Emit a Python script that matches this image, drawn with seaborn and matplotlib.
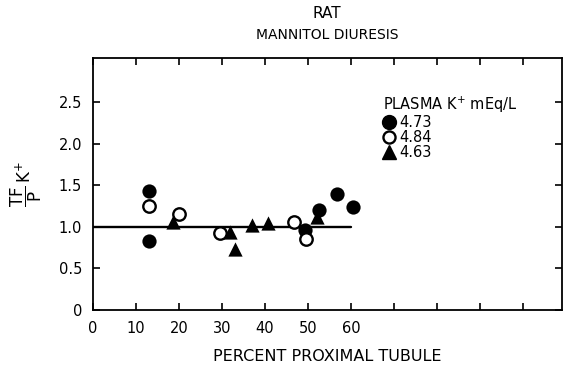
import numpy as np
import pandas as pd
import matplotlib
matplotlib.use("Agg")
import matplotlib.pyplot as plt
from matplotlib.lines import Line2D
import seaborn as sns

# Percent of proximal tubule length and TF/P potassium ratio, per plasma K+ group
x_473 = [12.9, 12.9, 49.3, 52.6, 56.8, 60.5]
y_473 = [1.43, 0.83, 0.96, 1.20, 1.39, 1.24]
x_484 = [12.9, 20.1, 29.5, 46.6, 49.5]
y_484 = [1.25, 1.15, 0.92, 1.06, 0.85]
x_463 = [18.7, 31.9, 33.0, 36.9, 40.6, 52.0]
y_463 = [1.06, 0.94, 0.73, 1.02, 1.05, 1.12]
group_labels = ["4.73", "4.84", "4.63"]

# Reference line at TF/P = 1
ref_x = [0, 60]
ref_y = [1.0, 1.0]

x_ticks = [0, 10, 20, 30, 40, 50, 60, 70, 80, 90, 100]
x_ticklabels = ["0", "10", "20", "30", "40", "50", "60", "", "", "", ""]
y_ticks = [0, 0.5, 1.0, 1.5, 2.0, 2.5]
y_ticklabels = ["0", "0.5", "1.0", "1.5", "2.0", "2.5"]

df = pd.DataFrame({
    "x": x_473 + x_484 + x_463,
    "y": y_473 + y_484 + y_463,
    "group": [group_labels[0]] * len(x_473) + [group_labels[1]] * len(x_484)
             + [group_labels[2]] * len(x_463),
})

sns.set_style("ticks")
plt.rcParams["font.family"] = ["DejaVu Sans"]
plt.rcParams["mathtext.fontset"] = "dejavusans"
plt.rcParams["text.color"] = "black"
plt.rcParams["axes.labelcolor"] = "black"
plt.rcParams["xtick.color"] = "black"
plt.rcParams["ytick.color"] = "black"

fig = plt.figure(figsize=(5.66, 3.68), dpi=100)
ax = fig.add_axes([0.1643, 0.1576, 0.8287, 0.6848])

styles = {
    "4.73": dict(marker="o", facecolor="black", s=105, linewidth=0),
    "4.84": dict(marker="o", facecolor="white", s=80, linewidth=1.7),
    "4.63": dict(marker="^", facecolor="black", s=105, linewidth=0),
}

sns.lineplot(x=ref_x, y=ref_y, ax=ax, color="black", linewidth=1.7, zorder=1)
for g in group_labels:
    sub = df[df["group"] == g]
    st = styles[g]
    sns.scatterplot(data=sub, x="x", y="y", ax=ax, marker=st["marker"],
                    color=st["facecolor"], edgecolor="black", s=st["s"],
                    linewidth=st["linewidth"], zorder=3, legend=False)

ax.set_xlim(0, 109)
ax.set_ylim(0, 3.03)
ax.set_xticks(x_ticks)
ax.set_xticklabels(x_ticklabels)
ax.set_yticks(y_ticks)
ax.set_yticklabels(y_ticklabels)
ax.tick_params(direction="in", length=5, width=1.2, top=True, right=True,
               labelsize=10.5, colors="black", pad=8)
for sp in ax.spines.values():
    sp.set_visible(True)
    sp.set_linewidth(1.3)
    sp.set_color("black")

ax.set_xlabel("PERCENT PROXIMAL TUBULE", fontsize=11.5, labelpad=9)
ax.set_ylabel(r"$\dfrac{\mathrm{TF}}{\mathrm{P}}\,\mathrm{K}^{+}$", fontsize=12, labelpad=10)

fig.text(0.578, 0.962, "RAT", ha="center", va="center", fontsize=11)
fig.text(0.578, 0.905, "MANNITOL DIURESIS", ha="center", va="center", fontsize=10)

handles = [
    Line2D([], [], marker="o", linestyle="none", markerfacecolor="black",
           markeredgecolor="black", markersize=10),
    Line2D([], [], marker="o", linestyle="none", markerfacecolor="white",
           markeredgecolor="black", markeredgewidth=1.7, markersize=8.7),
    Line2D([], [], marker="^", linestyle="none", markerfacecolor="black",
           markeredgecolor="black", markersize=10),
]
leg = ax.legend(handles, group_labels, title=r"PLASMA K$^{+}$ mEq/L",
                loc="upper left", bbox_to_anchor=(0.597, 0.895), frameon=False,
                fontsize=10.5, title_fontsize=10.5, alignment="left",
                handlelength=0.8, handletextpad=0.3, labelspacing=0.0,
                borderpad=0.2)

fig.savefig("out.png", dpi=100)
